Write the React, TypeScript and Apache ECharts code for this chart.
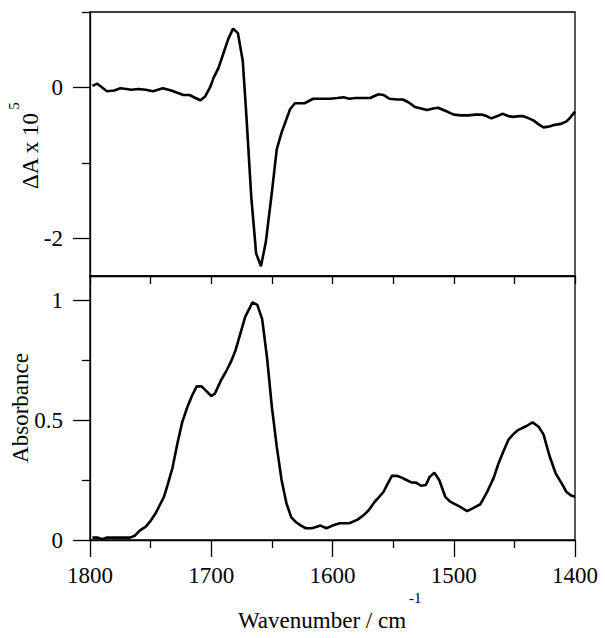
import React, { useEffect, useRef } from "react";
import * as echarts from "echarts";

// Difference spectrum (top panel): wavenumber (cm-1) and ΔA x 10^5
const diffWavenumbers = [
  1798, 1794, 1790, 1786, 1780, 1775, 1770, 1766, 1760, 1754, 1748, 1740, 1733, 1728, 1723, 1718,
  1713, 1709, 1705, 1701, 1698, 1694, 1690, 1686, 1682, 1678, 1674, 1671, 1667, 1663, 1659, 1655,
  1650, 1646, 1642, 1638, 1635, 1631, 1627, 1623, 1616, 1610, 1602, 1596, 1591, 1586, 1581, 1577,
  1569, 1562, 1558, 1553, 1547, 1542, 1537, 1532, 1527, 1522, 1517, 1513, 1507, 1500, 1494, 1488,
  1482, 1477, 1473, 1469, 1464, 1460, 1455, 1451, 1446, 1443, 1438, 1434, 1430, 1426, 1422, 1418,
  1414, 1411, 1407, 1404, 1400,
];
const diffValues = [
  0.02, 0.05, 0.0, -0.05, -0.04, -0.01, -0.02, -0.03, -0.02, -0.03, -0.05, -0.01, -0.04, -0.07, -0.1, -0.1,
  -0.14, -0.17, -0.12, 0.0, 0.13, 0.26, 0.45, 0.64, 0.78, 0.72, 0.35, -0.38, -1.45, -2.2, -2.37, -2.05,
  -1.39, -0.82, -0.6, -0.42, -0.29, -0.21, -0.21, -0.21, -0.15, -0.15, -0.15, -0.14, -0.13, -0.15, -0.14, -0.14,
  -0.14, -0.09, -0.1, -0.15, -0.16, -0.16, -0.2, -0.26, -0.28, -0.3, -0.28, -0.27, -0.31, -0.36, -0.37, -0.37,
  -0.36, -0.36, -0.38, -0.41, -0.38, -0.35, -0.38, -0.39, -0.38, -0.38, -0.41, -0.44, -0.49, -0.53, -0.52, -0.5,
  -0.49, -0.48, -0.45, -0.4, -0.32,
];

// Absorbance spectrum (bottom panel)
const absWavenumbers = [
  1798, 1794, 1790, 1786, 1780, 1774, 1767, 1763, 1759, 1754, 1750, 1746, 1742, 1739, 1736, 1732,
  1728, 1724, 1720, 1716, 1712, 1708, 1704, 1700, 1697, 1692, 1688, 1684, 1680, 1676, 1672, 1669,
  1666, 1662, 1658, 1654, 1650, 1646, 1642, 1638, 1634, 1630, 1626, 1622, 1617, 1613, 1610, 1605,
  1600, 1594, 1586, 1579, 1574, 1570, 1565, 1558, 1555, 1551, 1547, 1543, 1539, 1535, 1531, 1527,
  1523, 1520, 1516, 1512, 1507, 1503, 1495, 1489, 1484, 1478, 1472, 1467, 1463, 1459, 1455, 1451,
  1447, 1440, 1435, 1430, 1426, 1421, 1416, 1411, 1407, 1403, 1400,
];
const absValues = [
  0.01, 0.01, 0.003, 0.01, 0.01, 0.01, 0.01, 0.018, 0.039, 0.056, 0.08, 0.11, 0.15, 0.18, 0.23, 0.3,
  0.4, 0.49, 0.55, 0.6, 0.64, 0.64, 0.62, 0.6, 0.61, 0.665, 0.7, 0.74, 0.79, 0.86, 0.93, 0.96,
  0.99, 0.98, 0.92, 0.76, 0.555, 0.39, 0.25, 0.153, 0.094, 0.074, 0.06, 0.049, 0.049, 0.055, 0.06, 0.049,
  0.06, 0.07, 0.07, 0.086, 0.105, 0.125, 0.16, 0.2, 0.23, 0.267, 0.268, 0.26, 0.25, 0.24, 0.239, 0.226,
  0.229, 0.262, 0.28, 0.25, 0.18, 0.16, 0.139, 0.12, 0.133, 0.149, 0.205, 0.26, 0.32, 0.37, 0.417, 0.44,
  0.458, 0.475, 0.49, 0.472, 0.44, 0.35, 0.278, 0.236, 0.2, 0.185, 0.18,
];

const diffLabelTicks = [0, -2];
const diffMinorTicks = [1, -1];
const absLabelTicks = [0, 0.5, 1];
const absMinorTicks = [0.25, 0.75];

const FONT = "Liberation Serif";
const BLACK = "#000";
const AXW = 1.3;

export default function App() {
  const ref = useRef<HTMLDivElement>(null);

  useEffect(() => {
    if (!ref.current) return;
    const chart = echarts.init(ref.current, null, { renderer: "svg" });

    const diffData = diffWavenumbers.map((w, i) => [w, diffValues[i]]);
    const absData = absWavenumbers.map((w, i) => [w, absValues[i]]);

    const lineAxis = { show: true, onZero: false, lineStyle: { color: BLACK, width: AXW } };
    const labelStyle = { color: BLACK, fontSize: 23, fontFamily: FONT, formatter: (v: number) => String(v) };

    chart.setOption({
      animation: false,
      backgroundColor: "#fff",
      textStyle: { fontFamily: FONT },
      grid: [
        { left: 90, right: 30, top: 12, height: 264, show: true, borderColor: BLACK, borderWidth: AXW, backgroundColor: "transparent" },
        { left: 90, right: 30, top: 276, height: 264, show: true, borderColor: BLACK, borderWidth: AXW, backgroundColor: "transparent" },
      ],
      xAxis: [
        {
          gridIndex: 0, type: "value", min: 1400, max: 1800, interval: 50, inverse: true, position: "bottom",
          axisLine: lineAxis,
          axisTick: { show: true, inside: false, length: 8, lineStyle: { color: BLACK, width: AXW } },
          axisLabel: { show: false },
          splitLine: { show: false },
        },
        {
          gridIndex: 1, type: "value", min: 1400, max: 1800, interval: 100, inverse: true, position: "bottom",
          axisLine: lineAxis,
          axisTick: { show: true, inside: false, length: 17, lineStyle: { color: BLACK, width: AXW } },
          minorTick: { show: true, splitNumber: 2, length: 8, lineStyle: { color: BLACK, width: AXW } },
          axisLabel: { ...labelStyle, margin: 24 },
          splitLine: { show: false },
          minorSplitLine: { show: false },
        },
      ],
      yAxis: [
        {
          gridIndex: 0, type: "value", min: -2.5, max: 1, position: "left",
          axisLine: lineAxis,
          axisTick: { show: true, inside: false, length: 17, customValues: diffLabelTicks, lineStyle: { color: BLACK, width: AXW } },
          axisLabel: { ...labelStyle, margin: 27, customValues: diffLabelTicks },
          splitLine: { show: false },
        },
        {
          gridIndex: 1, type: "value", min: 0, max: 1.1, position: "left",
          axisLine: lineAxis,
          axisTick: { show: true, inside: false, length: 17, customValues: absLabelTicks, lineStyle: { color: BLACK, width: AXW } },
          axisLabel: { ...labelStyle, margin: 27, customValues: absLabelTicks },
          splitLine: { show: false },
        },
        {
          gridIndex: 0, type: "value", min: -2.5, max: 1, position: "left",
          axisLine: { show: false },
          axisTick: { show: true, inside: false, length: 8, customValues: diffMinorTicks, lineStyle: { color: BLACK, width: AXW } },
          axisLabel: { show: false },
          splitLine: { show: false },
        },
        {
          gridIndex: 1, type: "value", min: 0, max: 1.1, position: "left",
          axisLine: { show: false },
          axisTick: { show: true, inside: false, length: 8, customValues: absMinorTicks, lineStyle: { color: BLACK, width: AXW } },
          axisLabel: { show: false },
          splitLine: { show: false },
        },
      ],
      series: [
        {
          type: "line", xAxisIndex: 0, yAxisIndex: 0, data: diffData, showSymbol: false, symbol: "none",
          lineStyle: { color: BLACK, width: 2.6 }, itemStyle: { color: BLACK }, clip: true,
        },
        {
          type: "line", xAxisIndex: 1, yAxisIndex: 1, data: absData, showSymbol: false, symbol: "none",
          lineStyle: { color: BLACK, width: 2.6 }, itemStyle: { color: BLACK }, clip: true,
        },
      ],
      graphic: [
        {
          type: "text", x: 30, y: 151, rotation: Math.PI / 2,
          style: { text: "ΔA x 10", fontSize: 23, fontFamily: FONT, fill: BLACK, align: "center", verticalAlign: "middle" },
        },
        {
          type: "text", x: 13.5, y: 106, rotation: Math.PI / 2,
          style: { text: "5", fontSize: 15, fontFamily: FONT, fill: BLACK, align: "center", verticalAlign: "middle" },
        },
        {
          type: "text", x: 20, y: 408, rotation: Math.PI / 2,
          style: { text: "Absorbance", fontSize: 23, fontFamily: FONT, fill: BLACK, align: "center", verticalAlign: "middle" },
        },
        {
          type: "text", x: 238, y: 620,
          style: { text: "Wavenumber / cm", fontSize: 23, fontFamily: FONT, fill: BLACK, align: "left", verticalAlign: "middle" },
        },
        {
          type: "text", x: 409, y: 598,
          style: { text: "-1", fontSize: 15, fontFamily: FONT, fill: BLACK, align: "left", verticalAlign: "middle" },
        },
      ],
    });

    return () => chart.dispose();
  }, []);

  return <div ref={ref} style={{ position: "fixed", left: 0, top: 0, width: 605, height: 638 }} />;
}
